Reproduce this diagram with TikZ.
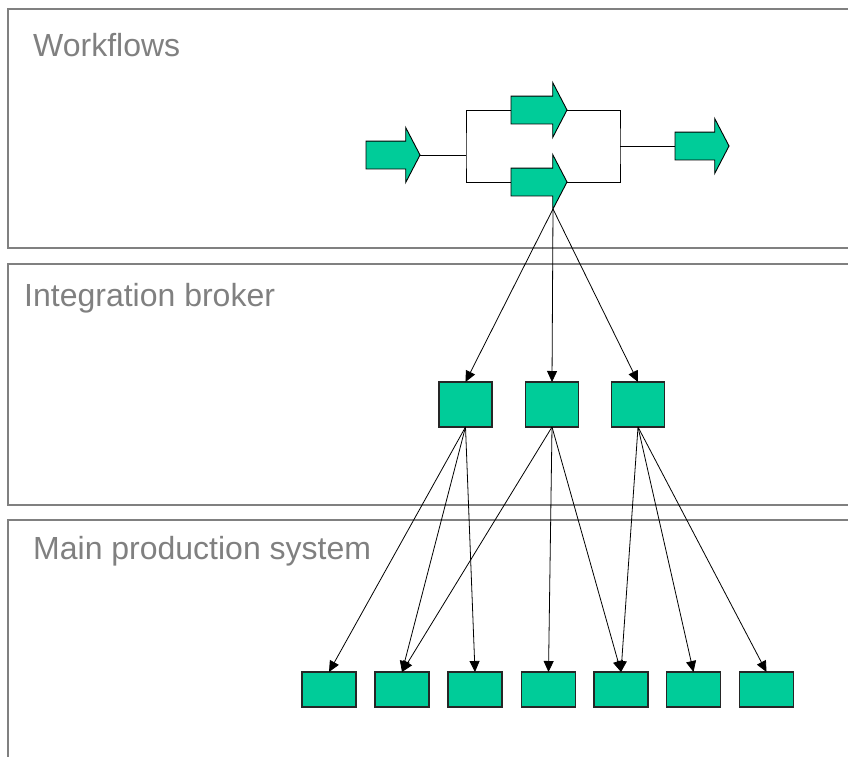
\documentclass[tikz,border=0pt]{standalone}
\usepackage{fontspec}
\setmainfont{Liberation Sans}
\usetikzlibrary{shapes.arrows,arrows.meta,calc}
\definecolor{boxgreen}{HTML}{00CC99}
\definecolor{panelgray}{HTML}{808080}
\begin{document}
\begin{tikzpicture}[x=1pt,y=-1pt,
  panel/.style={draw=panelgray,line width=2pt},
  paneltext/.style={anchor=base west,inner sep=0pt,text=panelgray,font=\fontsize{32}{37}\selectfont},
  blockarrow/.style={shape=single arrow,draw=black,line width=0.9pt,fill=boxgreen,
    inner xsep=0pt,inner ysep=13.5pt,single arrow head extend=13.5pt,
    single arrow tip angle=125,minimum height=54pt,outer sep=0pt,anchor=tail},
  brokerbox/.style={draw=black!85,line width=1.2pt,fill=boxgreen,minimum width=53pt,minimum height=45pt,inner sep=0pt,outer sep=0pt},
  sysbox/.style={draw=black!85,line width=1.2pt,fill=boxgreen,minimum width=54pt,minimum height=35pt,inner sep=0pt,outer sep=0pt},
  wire/.style={draw=black,line width=0.9pt},
  conn/.style={draw=black,line width=0.8pt,-{Triangle[length=11pt,width=10pt]}}]
\useasboundingbox (0,0) rectangle (848,756);
% panels
\draw[panel] (7.7,9) rectangle (870,248);
\draw[panel] (7.7,264) rectangle (870,505);
\draw[panel] (7.7,520) rectangle (870,790);
\node[paneltext] (t1) at (33,56) {Workflows};
\node[paneltext] (t2) at (24,306) {Integration broker};
\node[paneltext] (t3) at (33,559) {Main production system};
% workflow
\node[blockarrow] (a1) at (366,155) {};
\node[blockarrow,minimum height=56pt] (a2) at (511,110) {};
\node[blockarrow,minimum height=56pt] (a3) at (511,182) {};
\node[blockarrow] (a4) at (675,146) {};
\coordinate (s1) at (466,155);
\coordinate (j1) at (620,146);
\draw[wire] (a1.tip) -- (s1);
\draw[wire] (a2.tail) -| (s1) |- (a3.tail);
\draw[wire] (a2.tip) -| (j1) |- (a3.tip);
\draw[wire] (j1) -- (a4.tail);
\coordinate (a3c) at ($(a3.tip)+(-14,27)$);
% broker
\node[brokerbox] (k1) at (465.5,404.5) {};
\node[brokerbox] (k2) at (552,404.5) {};
\node[brokerbox] (k3) at (638,404.5) {};
% system
\foreach \i/\x in {1/329,2/402,3/475,4/548.5,5/621,6/693.5,7/766.5}
  \node[sysbox] (m\i) at (\x,689.5) {};
% connectors
\draw[conn] (a3c) -- (k1.north);
\draw[conn] (a3c) -- (k2.north);
\draw[conn] (a3c) -- (k3.north);
\draw[conn] (k1.south) -- (m1.north);
\draw[conn] (k1.south) -- (m2.north);
\draw[conn] (k1.south) -- (m3.north);
\draw[conn] (k2.south) -- (m2.north);
\draw[conn] (k2.south) -- (m4.north);
\draw[conn] (k2.south) -- (m5.north);
\draw[conn] (k3.south) -- (m5.north);
\draw[conn] (k3.south) -- (m6.north);
\draw[conn] (k3.south) -- (m7.north);
\end{tikzpicture}
\end{document}
